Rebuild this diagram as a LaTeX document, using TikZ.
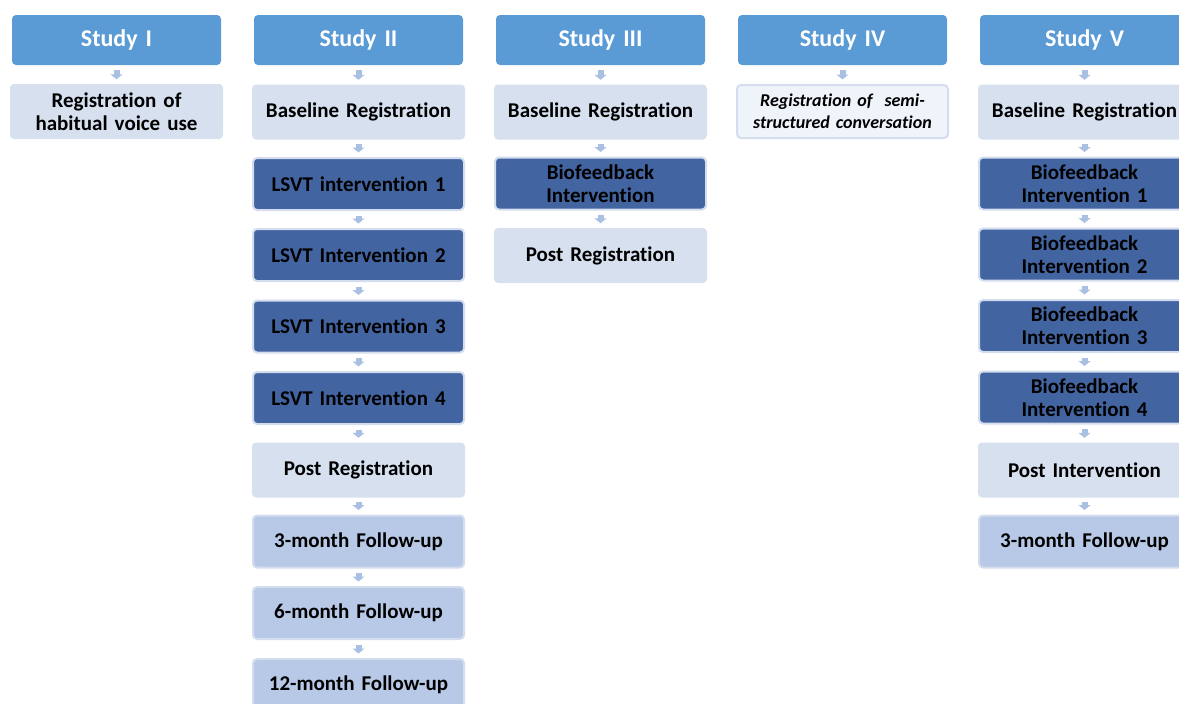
\documentclass[tikz,border=0pt]{standalone}
\usepackage{fontspec}
\setmainfont[Ligatures=NoCommon]{Carlito}
\usetikzlibrary{arrows.meta}

\definecolor{headblue}{HTML}{5B9BD5}
\definecolor{paleblue}{HTML}{D6E0EF}
\definecolor{darkblue}{HTML}{4264A1}
\definecolor{midblue}{HTML}{B7C9E6}
\definecolor{rimblue}{HTML}{D3DDEE}
\definecolor{arrowblue}{HTML}{A9C0E2}
\definecolor{ivwhite}{HTML}{EFF3FA}

\begin{document}
\begin{tikzpicture}[x=1pt,y=-1pt,
  box/.style={rounded corners=4pt,minimum width=213pt,minimum height=55pt,
    text width=205pt,align=center,inner sep=0pt,font=\fontsize{21}{23}\selectfont\bfseries},
  head/.style={box,fill=headblue,text=white,minimum width=209pt,minimum height=50pt,
    font=\fontsize{24}{26}\selectfont\bfseries},
  pale/.style={box,fill=paleblue},
  dark/.style={box,fill=darkblue,draw=rimblue,line width=2pt,minimum width=211pt,minimum height=52pt},
  mid/.style={box,fill=midblue,draw=rimblue,line width=2pt,minimum width=211pt,minimum height=52pt},
  arr/.style={arrowblue,line width=6pt,shorten <=4.5pt,shorten >=4.5pt,
    -{Triangle[width=12pt,length=5pt]}}]

\useasboundingbox (0,0) rectangle (1179,704);
\clip (0,0) rectangle (1179,704);

% Study I
\node [head] (h1) at (116.5,40) {Study I};
\node [pale] (s1a) at (116.5,111.5) {Registration of\\habitual voice use};

% Study II
\node [head] (h2) at (358.5,40) {Study II};
\node [pale] (s2a) at (358.5,112) {Baseline Registration};
\node [dark] (s2b) at (358.5,184) {LSVT intervention 1};
\node [dark] (s2c) at (358.5,255) {LSVT Intervention 2};
\node [dark] (s2d) at (358.5,326.5) {LSVT Intervention 3};
\node [dark] (s2e) at (358.5,398) {LSVT Intervention 4};
\node [pale] (s2f) at (358.5,470) {Post Registration};
\node [mid] (s2g) at (358.5,541.5) {3-month Follow-up};
\node [mid] (s2h) at (358.5,613) {6-month Follow-up};
\node [mid] (s2i) at (358.5,685) {12-month Follow-up};

% Study III
\node [head] (h3) at (600.5,40) {Study III};
\node [pale] (s3a) at (600.5,112) {Baseline Registration};
\node [dark] (s3b) at (600.5,183.5) {Biofeedback\\Intervention};
\node [pale] (s3c) at (600.5,255.5) {Post Registration};

% Study IV
\node [head] (h4) at (842.5,40) {Study IV};
\node [box,fill=ivwhite,draw=rimblue,line width=2pt,minimum width=211pt,minimum height=53pt,
  font=\fontsize{18}{22}\selectfont\bfseries\itshape] (s4a) at (842.5,111.5)
  {Registration of\ \ semi-\\structured conversation};

% Study V
\node [head] (h5) at (1084.5,40) {Study V};
\node [pale] (s5a) at (1084.5,112) {Baseline Registration};
\node [dark] (s5b) at (1084.5,183.5) {Biofeedback\\Intervention 1};
\node [dark] (s5c) at (1084.5,254.5) {Biofeedback\\Intervention 2};
\node [dark] (s5d) at (1084.5,326) {Biofeedback\\Intervention 3};
\node [dark] (s5e) at (1084.5,397.5) {Biofeedback\\Intervention 4};
\node [pale] (s5f) at (1084.5,470) {Post Intervention};
\node [mid] (s5g) at (1084.5,541.5) {3-month Follow-up};

\draw[arr] (h1) -- (s1a);

\draw[arr] (h2) -- (s2a);
\draw[arr] (s2a) -- (s2b);
\draw[arr] (s2b) -- (s2c);
\draw[arr] (s2c) -- (s2d);
\draw[arr] (s2d) -- (s2e);
\draw[arr] (s2e) -- (s2f);
\draw[arr] (s2f) -- (s2g);
\draw[arr] (s2g) -- (s2h);
\draw[arr] (s2h) -- (s2i);

\draw[arr] (h3) -- (s3a);
\draw[arr] (s3a) -- (s3b);
\draw[arr] (s3b) -- (s3c);

\draw[arr] (h4) -- (s4a);

\draw[arr] (h5) -- (s5a);
\draw[arr] (s5a) -- (s5b);
\draw[arr] (s5b) -- (s5c);
\draw[arr] (s5c) -- (s5d);
\draw[arr] (s5d) -- (s5e);
\draw[arr] (s5e) -- (s5f);
\draw[arr] (s5f) -- (s5g);

\end{tikzpicture}
\end{document}
